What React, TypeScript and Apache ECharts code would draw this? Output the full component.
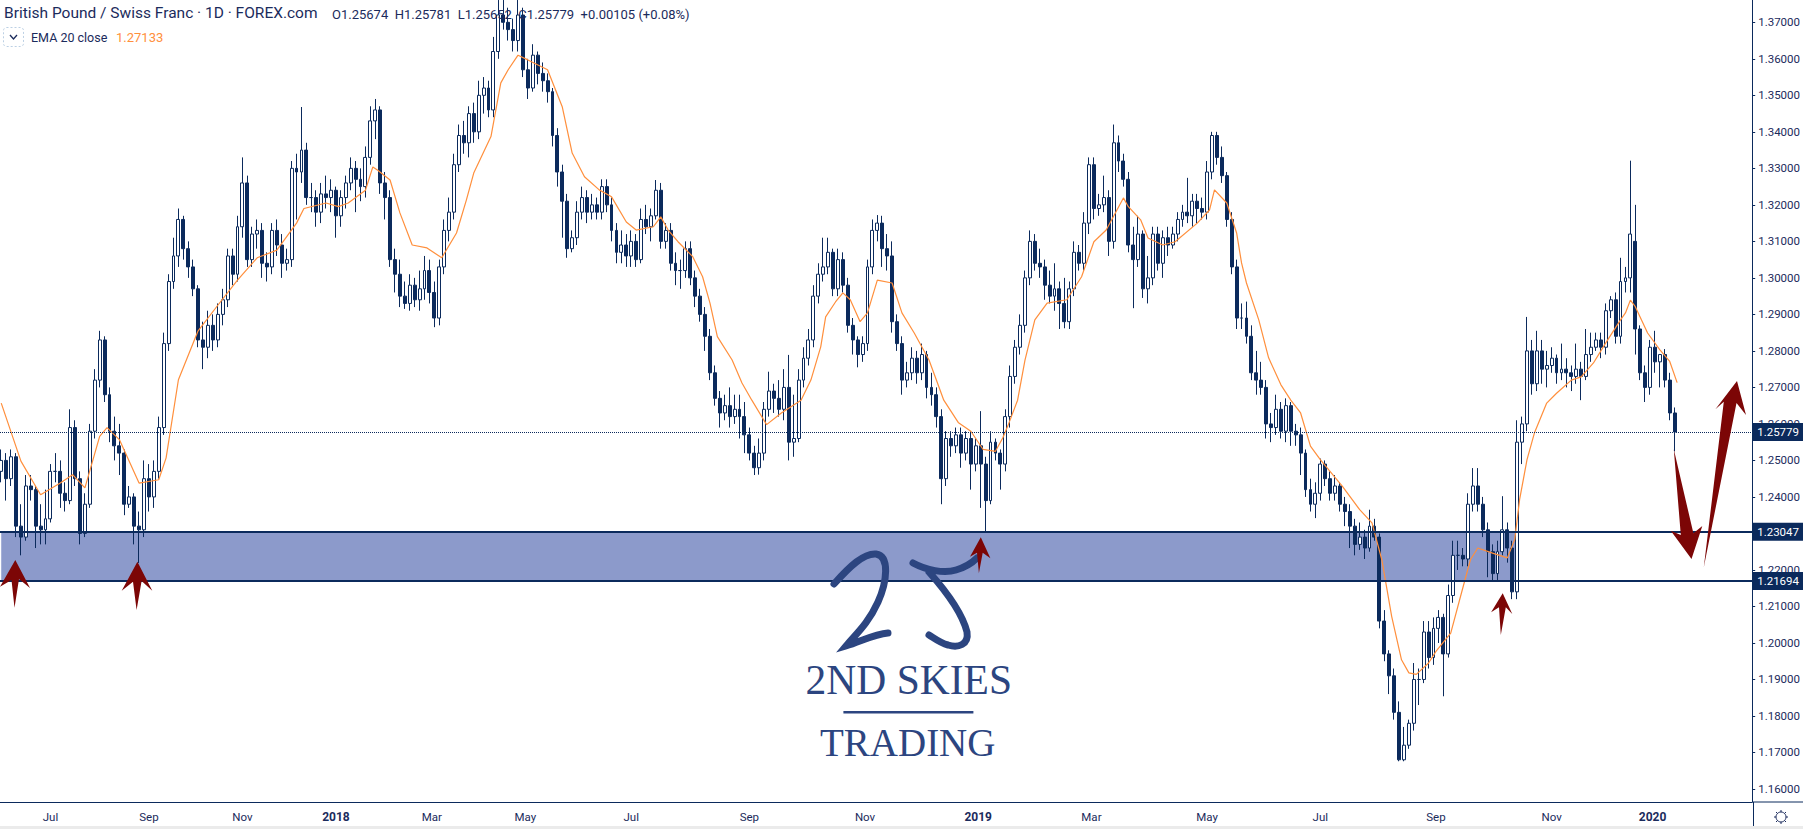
import React, { useEffect, useRef } from "react";
import * as echarts from "echarts";

const NAVY = "#0b2a5c";
const TEXT = "#1b2b5c";
const ORANGE = "#ff8f3c";
const RED = "#7c0606";
const LOGO = "#2c4580";

const slotCount = 712;
const tickSlots = [20, 60, 98, 136, 175, 213, 256, 304, 351, 397, 443, 490, 536, 583, 630, 671];
const tickLabels = ["Jul", "Sep", "Nov", "2018", "Mar", "May", "Jul", "Sep", "Nov", "2019", "Mar", "May", "Jul", "Sep", "Nov", "2020"];
const priceTicks = [1.16, 1.17, 1.18, 1.19, 1.2, 1.21, 1.22, 1.23, 1.24, 1.25, 1.26, 1.27, 1.28, 1.29, 1.3, 1.31, 1.32, 1.33, 1.34, 1.35, 1.36, 1.37];

const lastPrice = 1.25779;
const zoneTop = 1.23047;
const zoneBottom = 1.21694;
const zoneEndSlot = 616;

const opens = [
  1.247,1.250,1.245,1.251,1.232,1.229,1.243,1.242,1.232,1.231,
  1.234,1.247,1.247,1.241,1.239,1.259,1.245,1.230,1.238,1.258,
  1.272,1.283,1.268,1.258,1.254,1.252,1.238,1.240,1.232,1.231,
  1.245,1.240,1.247,1.259,1.282,1.299,1.306,1.316,1.308,1.303,
  1.297,1.283,1.281,1.287,1.283,1.290,1.294,1.306,1.301,1.314,
  1.326,1.305,1.312,1.313,1.304,1.303,1.313,1.309,1.304,1.305,
  1.330,1.329,1.335,1.322,1.322,1.318,1.323,1.322,1.324,1.317,
  1.322,1.326,1.330,1.327,1.325,1.333,1.343,1.346,1.326,1.322,
  1.305,1.301,1.295,1.293,1.298,1.294,1.297,1.302,1.296,1.289,
  1.303,1.313,1.318,1.331,1.339,1.337,1.345,1.340,1.350,1.352,
  1.346,1.362,1.372,1.370,1.368,1.365,1.372,1.357,1.352,1.361,
  1.356,1.354,1.351,1.339,1.329,1.321,1.308,1.311,1.318,1.322,
  1.318,1.320,1.318,1.325,1.320,1.313,1.307,1.309,1.306,1.310,
  1.305,1.316,1.314,1.317,1.324,1.310,1.313,1.304,1.302,1.302,
  1.308,1.300,1.295,1.290,1.284,1.274,1.267,1.263,1.265,1.262,
  1.264,1.262,1.257,1.252,1.248,1.252,1.264,1.269,1.267,1.264,
  1.270,1.255,1.256,1.272,1.278,1.283,1.295,1.301,1.303,1.307,
  1.297,1.305,1.298,1.287,1.283,1.279,1.282,1.303,1.313,1.315,
  1.308,1.306,1.288,1.282,1.272,1.274,1.278,1.274,1.279,1.270,
  1.268,1.262,1.245,1.256,1.254,1.257,1.252,1.256,1.249,1.254,
  1.249,1.239,1.255,1.252,1.249,1.262,1.273,1.281,1.287,1.300,
  1.310,1.304,1.303,1.298,1.295,1.297,1.293,1.288,1.297,1.307,
  1.304,1.315,1.331,1.319,1.320,1.322,1.310,1.337,1.332,1.327,
  1.309,1.305,1.312,1.297,1.300,1.312,1.304,1.311,1.309,1.312,
  1.316,1.318,1.317,1.321,1.319,1.318,1.329,1.339,1.333,1.328,
  1.316,1.303,1.289,1.289,1.284,1.274,1.272,1.270,1.260,1.259,
  1.264,1.258,1.265,1.258,1.257,1.252,1.242,1.238,1.241,1.249,
  1.245,1.241,1.243,1.238,1.236,1.232,1.227,1.229,1.226,1.232,
  1.229,1.206,1.197,1.191,1.181,1.168,1.172,1.178,1.190,1.190,
  1.203,1.196,1.204,1.207,1.197,1.213,1.224,1.224,1.223,1.238,
  1.243,1.238,1.231,1.225,1.219,1.225,1.231,1.226,1.214,1.255,
  1.260,1.280,1.271,1.280,1.275,1.276,1.278,1.274,1.275,1.274,
  1.273,1.275,1.273,1.279,1.281,1.283,1.281,1.291,1.294,1.284,
  1.299,1.300,1.310,1.286,1.274,1.270,1.281,1.277,1.279,1.272,1.263,
];

const closes = [
  1.250,1.245,1.251,1.232,1.229,1.243,1.242,1.232,1.231,1.234,
  1.247,1.247,1.241,1.239,1.259,1.245,1.230,1.238,1.258,1.272,
  1.283,1.268,1.258,1.254,1.252,1.238,1.240,1.232,1.231,1.245,
  1.240,1.247,1.259,1.282,1.299,1.306,1.316,1.308,1.303,1.297,
  1.283,1.281,1.287,1.283,1.290,1.294,1.306,1.301,1.314,1.326,
  1.305,1.312,1.313,1.304,1.303,1.313,1.309,1.304,1.305,1.330,
  1.329,1.335,1.322,1.322,1.318,1.323,1.322,1.324,1.317,1.322,
  1.326,1.330,1.327,1.325,1.333,1.343,1.346,1.326,1.322,1.305,
  1.301,1.295,1.293,1.298,1.294,1.297,1.302,1.296,1.289,1.303,
  1.313,1.318,1.331,1.339,1.337,1.345,1.340,1.350,1.352,1.346,
  1.362,1.372,1.370,1.368,1.365,1.372,1.357,1.352,1.361,1.356,
  1.354,1.351,1.339,1.329,1.321,1.308,1.311,1.318,1.322,1.318,
  1.320,1.318,1.325,1.320,1.313,1.307,1.309,1.306,1.310,1.305,
  1.316,1.314,1.317,1.324,1.310,1.313,1.304,1.302,1.302,1.308,
  1.300,1.295,1.290,1.284,1.274,1.267,1.263,1.265,1.262,1.264,
  1.262,1.257,1.252,1.248,1.252,1.264,1.269,1.267,1.264,1.270,
  1.255,1.256,1.272,1.278,1.283,1.295,1.301,1.303,1.307,1.297,
  1.305,1.298,1.287,1.283,1.279,1.282,1.303,1.313,1.315,1.308,
  1.306,1.288,1.282,1.272,1.274,1.278,1.274,1.279,1.270,1.268,
  1.262,1.245,1.256,1.254,1.257,1.252,1.256,1.249,1.254,1.249,
  1.239,1.255,1.252,1.249,1.262,1.273,1.281,1.287,1.300,1.310,
  1.304,1.303,1.298,1.295,1.297,1.293,1.288,1.297,1.307,1.304,
  1.315,1.331,1.319,1.320,1.322,1.310,1.337,1.332,1.327,1.309,
  1.305,1.312,1.297,1.300,1.312,1.304,1.311,1.309,1.312,1.316,
  1.318,1.317,1.321,1.319,1.318,1.329,1.339,1.333,1.328,1.316,
  1.303,1.289,1.289,1.284,1.274,1.272,1.270,1.260,1.259,1.264,
  1.258,1.265,1.258,1.257,1.252,1.242,1.238,1.241,1.249,1.245,
  1.241,1.243,1.238,1.236,1.232,1.227,1.229,1.226,1.232,1.229,
  1.206,1.197,1.191,1.181,1.168,1.172,1.178,1.190,1.190,1.203,
  1.196,1.204,1.207,1.197,1.213,1.224,1.224,1.223,1.238,1.243,
  1.238,1.231,1.225,1.219,1.225,1.231,1.226,1.214,1.255,1.260,
  1.280,1.271,1.280,1.275,1.276,1.278,1.274,1.275,1.274,1.273,
  1.275,1.273,1.279,1.281,1.283,1.281,1.291,1.294,1.284,1.299,
  1.300,1.312,1.286,1.274,1.270,1.281,1.277,1.279,1.272,1.263,1.25779,
];

const lows = [
  1.244,1.239,1.243,1.229,1.224,1.228,1.239,1.226,1.227,1.227,
  1.233,1.244,1.237,1.236,1.238,1.243,1.227,1.229,1.237,1.256,
  1.270,1.266,1.255,1.250,1.246,1.235,1.237,1.227,1.2219,1.229,
  1.236,1.237,1.245,1.257,1.280,1.297,1.303,1.305,1.300,1.295,
  1.281,1.275,1.278,1.280,1.281,1.287,1.292,1.298,1.299,1.311,
  1.303,1.303,1.308,1.300,1.299,1.301,1.306,1.300,1.302,1.303,
  1.316,1.326,1.320,1.318,1.314,1.315,1.319,1.318,1.311,1.314,
  1.319,1.324,1.318,1.321,1.322,1.331,1.338,1.323,1.316,1.303,
  1.296,1.292,1.2915,1.291,1.292,1.291,1.294,1.293,1.2865,1.287,
  1.301,1.310,1.316,1.329,1.334,1.333,1.337,1.338,1.345,1.344,
  1.344,1.360,1.368,1.365,1.362,1.362,1.355,1.349,1.351,1.353,
  1.351,1.348,1.336,1.325,1.311,1.3055,1.307,1.309,1.316,1.315,
  1.316,1.316,1.316,1.318,1.310,1.304,1.304,1.303,1.303,1.303,
  1.304,1.312,1.310,1.316,1.308,1.308,1.302,1.298,1.297,1.300,
  1.298,1.292,1.288,1.280,1.272,1.265,1.259,1.261,1.259,1.260,
  1.256,1.252,1.250,1.246,1.2461,1.250,1.262,1.263,1.262,1.261,
  1.250,1.251,1.255,1.270,1.276,1.281,1.293,1.299,1.301,1.295,
  1.295,1.296,1.285,1.279,1.2755,1.277,1.280,1.301,1.310,1.303,
  1.302,1.285,1.280,1.268,1.270,1.272,1.271,1.272,1.267,1.265,
  1.259,1.238,1.243,1.251,1.252,1.248,1.250,1.242,1.247,1.237,
  1.2306,1.238,1.250,1.242,1.247,1.259,1.271,1.279,1.285,1.298,
  1.302,1.300,1.294,1.293,1.291,1.286,1.2862,1.286,1.295,1.302,
  1.302,1.312,1.316,1.317,1.318,1.306,1.308,1.329,1.325,1.307,
  1.2917,1.303,1.2945,1.293,1.298,1.302,1.300,1.306,1.308,1.310,
  1.314,1.315,1.314,1.315,1.316,1.316,1.327,1.331,1.326,1.314,
  1.301,1.286,1.286,1.282,1.272,1.268,1.268,1.256,1.255,1.257,
  1.256,1.255,1.254,1.254,1.246,1.240,1.236,1.2342,1.239,1.243,
  1.239,1.239,1.236,1.232,1.226,1.224,1.2255,1.223,1.225,1.228,
  1.204,1.195,1.186,1.179,1.1676,1.1676,1.171,1.176,1.183,1.189,
  1.193,1.194,1.200,1.1854,1.196,1.211,1.220,1.221,1.221,1.236,
  1.236,1.229,1.218,1.217,1.217,1.224,1.222,1.212,1.212,1.249,
  1.258,1.268,1.269,1.271,1.270,1.274,1.271,1.272,1.270,1.269,
  1.271,1.2665,1.272,1.277,1.280,1.278,1.279,1.289,1.282,1.282,
  1.296,1.296,1.279,1.272,1.266,1.268,1.274,1.270,1.270,1.261,1.2525,
];

const highs = [
  1.253,1.252,1.253,1.252,1.238,1.246,1.246,1.243,1.238,1.242,
  1.249,1.252,1.250,1.244,1.264,1.261,1.247,1.241,1.260,1.275,
  1.2855,1.284,1.270,1.262,1.260,1.253,1.243,1.241,1.236,1.250,
  1.249,1.250,1.262,1.285,1.301,1.311,1.319,1.317,1.310,1.305,
  1.298,1.288,1.291,1.290,1.293,1.297,1.308,1.308,1.317,1.333,
  1.328,1.314,1.316,1.315,1.307,1.315,1.316,1.312,1.308,1.332,
  1.334,1.3468,1.337,1.326,1.324,1.326,1.328,1.327,1.325,1.324,
  1.328,1.333,1.332,1.330,1.336,1.347,1.349,1.347,1.329,1.324,
  1.308,1.305,1.299,1.301,1.300,1.302,1.306,1.305,1.299,1.305,
  1.316,1.322,1.334,1.342,1.343,1.347,1.348,1.354,1.355,1.354,
  1.366,1.3761,1.3761,1.374,1.371,1.3761,1.374,1.360,1.364,1.362,
  1.359,1.356,1.352,1.341,1.331,1.323,1.313,1.321,1.325,1.324,
  1.323,1.322,1.327,1.327,1.322,1.315,1.313,1.312,1.313,1.312,
  1.319,1.320,1.319,1.3268,1.326,1.315,1.315,1.307,1.305,1.310,
  1.310,1.302,1.297,1.292,1.286,1.276,1.269,1.268,1.270,1.268,
  1.268,1.266,1.259,1.254,1.256,1.266,1.2743,1.271,1.272,1.275,
  1.2789,1.268,1.275,1.281,1.286,1.298,1.304,1.311,1.311,1.308,
  1.308,1.307,1.300,1.289,1.284,1.284,1.305,1.316,1.3172,1.317,
  1.312,1.310,1.290,1.284,1.277,1.281,1.280,1.282,1.280,1.274,
  1.270,1.264,1.258,1.258,1.259,1.259,1.258,1.258,1.256,1.2635,
  1.251,1.258,1.256,1.253,1.264,1.276,1.283,1.290,1.302,1.313,
  1.312,1.308,1.305,1.302,1.304,1.299,1.300,1.299,1.310,1.309,
  1.318,1.333,1.333,1.323,1.328,1.324,1.342,1.339,1.334,1.329,
  1.314,1.317,1.313,1.306,1.314,1.314,1.313,1.314,1.314,1.318,
  1.320,1.3274,1.323,1.323,1.322,1.332,1.340,1.340,1.336,1.329,
  1.318,1.305,1.293,1.2935,1.287,1.280,1.277,1.272,1.263,1.268,
  1.266,1.267,1.266,1.260,1.259,1.253,1.245,1.244,1.2505,1.250,
  1.247,1.246,1.244,1.240,1.238,1.234,1.233,1.231,1.2365,1.234,
  1.230,1.209,1.198,1.193,1.184,1.177,1.179,1.1945,1.193,1.206,
  1.206,1.207,1.209,1.208,1.216,1.228,1.228,1.226,1.241,1.2479,
  1.2479,1.240,1.233,1.227,1.228,1.2402,1.233,1.228,1.261,1.262,
  1.2893,1.283,1.2855,1.283,1.280,1.281,1.279,1.282,1.278,1.276,
  1.282,1.277,1.286,1.285,1.285,1.285,1.293,1.295,1.296,1.3055,
  1.303,1.3321,1.320,1.287,1.276,1.283,1.2855,1.279,1.2805,1.274,1.2645,
];

const emaSlots = [
  0,8,16,24,29,34,40,43,48,56,64,67,72,80,88,96,104,112,120,123,132,137,141,148,151,153,158,162,167,173,179,185,189,192,199,203,206,210,214,222,
  228,232,237,243,248,254,258,265,268,271,275,281,285,288,291,297,301,305,311,317,325,329,333,335,339,342,345,349,352,356,362,366,371,377,381,383,389,394,399,404,
  407,409,413,416,420,425,433,439,444,449,456,458,463,466,472,477,486,491,493,498,502,504,506,511,515,520,524,528,532,536,545,552,557,561,565,569,572,575,580,583,
  589,593,597,600,606,612,615,617,620,623,628,632,638,642,647,652,658,660,662,664,669,674,678,681,
];
const emaValues = [
  1.2657,1.2498,1.2406,1.2438,1.2461,1.2425,1.2566,1.259,1.2557,1.2438,1.2447,1.2507,1.2721,1.2855,1.2925,1.2994,1.3055,1.3076,1.315,1.319,1.3205,1.3195,1.3205,1.324,1.3304,1.3295,1.3268,1.3178,1.309,1.3082,1.3055,1.3123,1.3213,1.3287,1.3387,1.3534,1.357,1.361,1.3597,1.357,
  1.3468,1.3342,1.3277,1.3241,1.3222,1.3153,1.3131,1.314,1.3167,1.3131,1.3099,1.3058,1.3003,1.2931,1.2839,1.2775,1.2712,1.2665,1.2598,1.263,1.2665,1.272,1.2811,1.2893,1.2934,1.2959,1.294,1.288,1.2904,1.2994,1.2986,1.2904,1.2849,1.2775,1.2702,1.2665,1.2603,1.258,1.253,1.2525,
  1.2562,1.2594,1.2665,1.2775,1.2885,1.2931,1.294,1.3003,1.3099,1.3131,1.3219,1.3195,1.3159,1.3109,1.309,1.3099,1.315,1.3186,1.3241,1.3205,1.3123,1.3041,1.2986,1.2885,1.2781,1.2707,1.2665,1.263,1.2539,1.2502,1.2429,1.2365,1.2329,1.2228,1.2073,1.1954,1.1918,1.1914,1.1945,1.1977,
  1.2027,1.2128,1.2228,1.226,1.2246,1.2233,1.2283,1.2393,1.2502,1.2575,1.2657,1.2684,1.272,1.2729,1.2767,1.2822,1.2885,1.2904,1.2939,1.2921,1.2849,1.2803,1.2771,1.2713,
];

const smallArrows = [
  [[15.3, 560], [0, 586.7], [11.5, 580], [14.5, 607.7], [19, 579], [30, 588]],
  [[137.4, 561.7], [121.7, 590.7], [133, 581.7], [136.6, 610], [141.6, 581], [152.3, 590.7]],
  [[980.8, 537.3], [970, 556.7], [977, 552.7], [978.9, 573.3], [982.7, 552.7], [990.4, 558.3]],
  [[1502.7, 593.3], [1491.1, 612.3], [1499, 607.3], [1500.8, 635], [1505.8, 607.3], [1512.3, 614]],
];
const bigDownArrow = [[1673.8, 449.3], [1693.4, 533.3], [1702.3, 526], [1691.5, 559], [1670.8, 530.7], [1680.8, 535]];
const bigUpArrow = [[1703.8, 567.3], [1723.8, 401.7], [1715.4, 409.3], [1737, 381], [1746, 415], [1736.5, 403]];

const logoTwo = "M834 584 C850 566 864 553 876 554 C890 556 887 582 878 602 C868 624 856 634 846 646 C860 642 874 634 888 633";
const logoFive = "M913 563 C926 570 944 574 956 570 C966 567 972 563 977 558 M929 572 C945 590 962 612 967 632 C969 645 958 648 948 645 C940 643 934 638 929 635";

const gearSpokes = [[0, -7, 0, -5], [5, -5, 3.5, -3.5], [7, 0, 5, 0], [5, 5, 3.5, 3.5], [0, 7, 0, 5], [-5, 5, -3.5, 3.5], [-7, 0, -5, 0], [-5, -5, -3.5, -3.5]];

export default function App() {
  const ref = useRef<HTMLDivElement>(null);
  useEffect(() => {
    document.body.style.margin = "0";
    echarts.graphic.registerShape("logoTwo", echarts.graphic.extendPath(logoTwo, {}));
    echarts.graphic.registerShape("logoFive", echarts.graphic.extendPath(logoFive, {}));
    const chart = echarts.init(ref.current!, undefined, { renderer: "svg" });

    const slots = Array.from({ length: slotCount }, (_, i) => {
      const k = tickSlots.indexOf(i);
      return k >= 0 ? tickLabels[k] : String(i);
    });
    const candles: any[] = slots.map(() => "-");
    closes.forEach((c, i) => {
      candles[i * 2] = [opens[i], c, lows[i], highs[i]];
    });
    const isTick = (i: number) => tickSlots.includes(i);
    const poly = (points: number[][]) => ({ type: "polygon", shape: { points }, style: { fill: RED }, z: 20 });
    const label = (text: string, x: number, y: number, fill: string, font: string) => ({
      type: "text", x, y, style: { text, fill, font, textVerticalAlign: "middle" }, z: 30,
    });
    const serif = (text: string, cx: number, y: number, size: number) => ({
      type: "text", x: cx, y, style: { text, fill: LOGO, font: `${size}px "Liberation Serif"`, textAlign: "center", textVerticalAlign: "middle" }, z: 15,
    });
    const priceLine = (value: number, type: string, width: number) => ({
      yAxis: value,
      lineStyle: { color: NAVY, type, width },
      label: {
        show: true, position: "end", distance: 0, formatter: value.toFixed(5), color: "#fff",
        backgroundColor: NAVY, padding: [3, 5], fontFamily: "Roboto", fontSize: 11.5, lineHeight: 12,
      },
    });

    chart.setOption({
      animation: false,
      backgroundColor: "#fff",
      grid: { left: 0, right: 50, top: 0, bottom: 27 },
      xAxis: {
        type: "category",
        data: slots,
        boundaryGap: true,
        axisLine: { lineStyle: { color: NAVY, width: 1 } },
        axisTick: { alignWithLabel: true, length: 4, interval: (i: number) => isTick(i), lineStyle: { color: NAVY } },
        axisLabel: {
          interval: (i: number) => isTick(i),
          margin: 9,
          color: TEXT,
          fontFamily: "Roboto",
          fontSize: 11.5,
          formatter: (v: string) => (/^20/.test(v) ? `{y|${v}}` : v),
          rich: { y: { fontFamily: "Roboto", fontWeight: "bold", fontSize: 12, color: TEXT } },
        },
        splitLine: { show: false },
      },
      yAxis: {
        type: "value",
        position: "right",
        min: 1.15644,
        max: 1.37611,
        axisLine: { show: true, lineStyle: { color: NAVY, width: 1 } },
        axisTick: { show: true, length: 3, customValues: priceTicks, lineStyle: { color: NAVY } },
        axisLabel: {
          customValues: priceTicks,
          margin: 6,
          color: TEXT,
          fontFamily: "Roboto",
          fontSize: 11.5,
          formatter: (v: number) => v.toFixed(5),
        },
        splitLine: { show: false },
      },
      series: [
        {
          type: "candlestick",
          data: candles,
          large: false,
          barWidth: 3.4,
          z: 3,
          silent: true,
          itemStyle: { color: "#ffffff", color0: NAVY, borderColor: NAVY, borderColor0: NAVY, borderWidth: 1 },
          markArea: {
            silent: true,
            itemStyle: { color: "#8c9acb", opacity: 1 },
            data: [[{ xAxis: 0, yAxis: zoneTop }, { xAxis: zoneEndSlot, yAxis: zoneBottom }]],
          },
          markLine: {
            silent: true,
            symbol: "none",
            precision: 5,
            data: [priceLine(lastPrice, "dotted", 1), priceLine(zoneTop, "solid", 2), priceLine(zoneBottom, "solid", 2)],
          },
        },
        {
          type: "line",
          data: emaSlots.map((s, i) => [s, emaValues[i]]),
          showSymbol: false,
          smooth: false,
          z: 4,
          silent: true,
          lineStyle: { color: ORANGE, width: 1.2 },
        },
      ],
      graphic: [
        { type: "rect", shape: { x: 0, y: 826, width: 1803, height: 3 }, style: { fill: "#ebebeb" }, z: 5 },
        { type: "line", shape: { x1: 1753, y1: 802, x2: 1803, y2: 802 }, style: { stroke: NAVY, lineWidth: 1 }, z: 5 },
        { type: "line", shape: { x1: 1753.5, y1: 802, x2: 1753.5, y2: 826 }, style: { stroke: NAVY, lineWidth: 1 }, z: 5 },
        label("British Pound / Swiss Franc · 1D · FOREX.com", 4, 13, TEXT, '15.5px Roboto'),
        label("O1.25674  H1.25781  L1.25652  C1.25779  +0.00105 (+0.08%)", 332, 14, TEXT, '13px Roboto'),
        label("EMA 20 close", 31, 37, TEXT, '12.5px Roboto'),
        label("1.27133", 116, 37, ORANGE, '13px Roboto'),
        { type: "rect", shape: { x: 3.5, y: 27.5, width: 20, height: 19, r: 3 }, style: { fill: "#fff", stroke: "#bcd0e4", lineDash: [2, 2], lineWidth: 1 }, z: 30 },
        { type: "polyline", shape: { points: [[10, 35], [13.5, 39], [17, 35]] }, style: { fill: "none", stroke: TEXT, lineWidth: 1.3 }, z: 31 },
        ...smallArrows.map(poly),
        poly(bigDownArrow),
        poly(bigUpArrow),
        { type: "logoTwo", style: { fill: "none", stroke: LOGO, lineWidth: 7, lineCap: "round" }, z: 14 },
        { type: "logoFive", style: { fill: "none", stroke: LOGO, lineWidth: 7, lineCap: "round" }, z: 14 },
        serif("2ND SKIES", 908.8, 680, 41.5),
        { type: "rect", shape: { x: 843.4, y: 711, width: 130, height: 2.5 }, style: { fill: LOGO }, z: 15 },
        serif("TRADING", 907.7, 742, 39),
        { type: "circle", shape: { cx: 1781, cy: 817, r: 5 }, style: { fill: "none", stroke: TEXT, lineWidth: 1 }, z: 5 },
        ...gearSpokes.map(([a, b, c, d]) => ({ type: "line", shape: { x1: 1781 + a, y1: 817 + b, x2: 1781 + c, y2: 817 + d }, style: { stroke: TEXT, lineWidth: 1 }, z: 5 })),
      ],
    });
    return () => chart.dispose();
  }, []);
  return <div ref={ref} style={{ position: "fixed", left: 0, top: 0, width: 1803, height: 829 }} />;
}
